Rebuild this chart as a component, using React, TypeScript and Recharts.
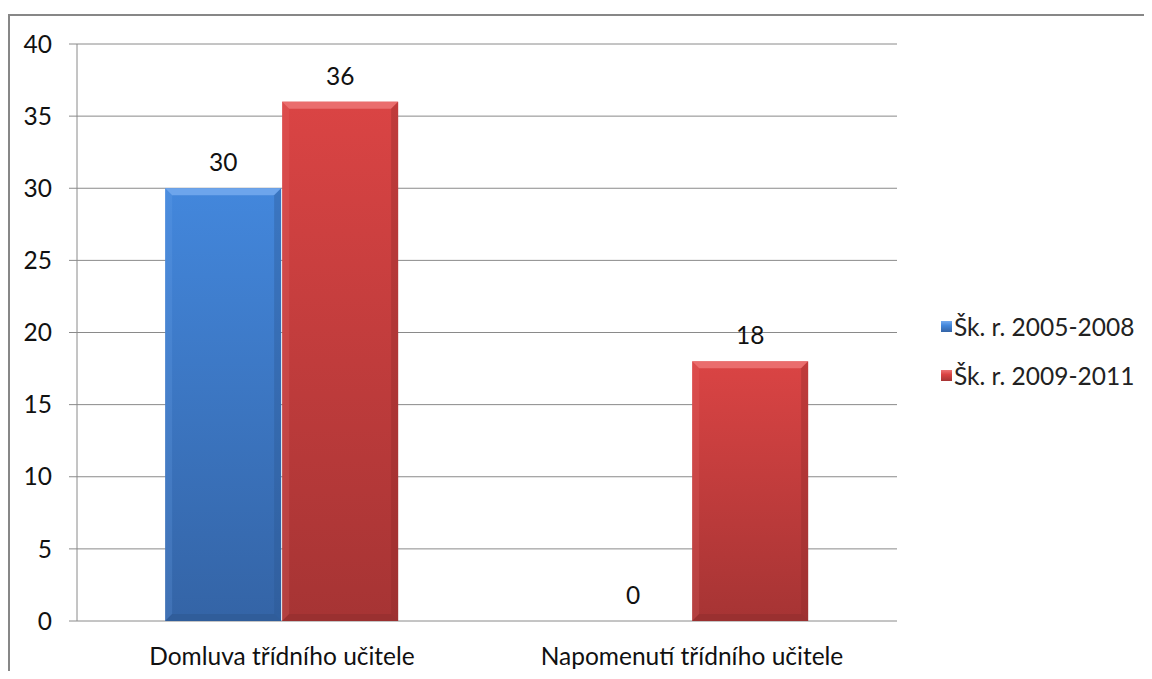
import React from "react";
import { BarChart, Bar, XAxis, YAxis, CartesianGrid, Legend, LabelList } from "recharts";

const categories = ["Domluva třídního učitele", "Napomenutí třídního učitele"];
const series2005 = [30, 0];
const series2009 = [36, 18];
const seriesNames = ["Šk. r. 2005-2008", "Šk. r. 2009-2011"];
const yTicks = [0, 5, 10, 15, 20, 25, 30, 35, 40];
const edgeTicks = [0, 1, 2];

const data = categories.map((c, i) => ({ name: c, a: series2005[i], b: series2009[i] }));

const FONT = "Lato, 'Open Sans', sans-serif";
const FS = 24.5;

const palette = {
  a: { top: "#4387DC", bottom: "#3464A6", light: "#74AAEE", dark: "#2B558E" },
  b: { top: "#DA4444", bottom: "#A63434", light: "#EC7474", dark: "#8E2B2B" },
};

const makeShape = (key: "a" | "b") => (props: any) => {
  const { x, y, width, height } = props;
  if (!height || height <= 0) return <g />;
  const p = palette[key];
  const b = Math.min(7, height / 2, width / 2);
  return (
    <g>
      <rect x={x} y={y} width={width} height={height} fill={`url(#grad-${key})`} />
      <polygon points={`${x},${y} ${x + width},${y} ${x + width - b},${y + b} ${x + b},${y + b}`} fill={p.light} opacity={0.85} />
      <polygon points={`${x},${y} ${x + b},${y + b} ${x + b},${y + height - b} ${x},${y + height}`} fill={p.light} opacity={0.2} />
      <polygon points={`${x + width},${y} ${x + width - b},${y + b} ${x + width - b},${y + height - b} ${x + width},${y + height}`} fill={p.dark} opacity={0.35} />
      <polygon points={`${x},${y + height} ${x + b},${y + height - b} ${x + width - b},${y + height - b} ${x + width},${y + height}`} fill={p.dark} opacity={0.5} />
    </g>
  );
};

const LegendContent = () => (
  <div style={{ width: 255, paddingLeft: 44, paddingTop: 14, boxSizing: "border-box", fontFamily: FONT, fontSize: FS, color: "#222" }}>
    {seriesNames.map((n, i) => {
      const p = i === 0 ? palette.a : palette.b;
      return (
        <div key={n} style={{ display: "flex", alignItems: "center", height: 49, whiteSpace: "nowrap" }}>
          <span style={{ display: "inline-block", width: 11, height: 11, background: `linear-gradient(${p.light}, ${p.top} 40%, ${p.bottom})`, marginRight: 2 }} />
          <span>{n}</span>
        </div>
      );
    })}
  </div>
);

export default function App() {
  return (
    <div style={{ marginTop: 6, borderTop: "2px solid #878787", borderLeft: "2px solid #878787", width: 1142, background: "#fff" }}>
      <BarChart
        width={1142}
        height={655}
        data={data}
        margin={{ top: 28, right: 0, bottom: 0, left: 7 }}
        barCategoryGap="21.5%"
        barGap={1}
      >
        <defs>
          <linearGradient id="grad-a" x1="0" y1="0" x2="0" y2="1">
            <stop offset="0%" stopColor={palette.a.top} />
            <stop offset="100%" stopColor={palette.a.bottom} />
          </linearGradient>
          <linearGradient id="grad-b" x1="0" y1="0" x2="0" y2="1">
            <stop offset="0%" stopColor={palette.b.top} />
            <stop offset="100%" stopColor={palette.b.bottom} />
          </linearGradient>
        </defs>
        <CartesianGrid vertical={false} stroke="#8a8a8a" xAxisId="edge" yAxisId="y" />
        <XAxis
          xAxisId="edge"
          type="number"
          domain={[0, 2]}
          ticks={edgeTicks}
          tick={false}
          height={0}
          tickSize={8}
          stroke="#8a8a8a"
          axisLine={{ stroke: "#8a8a8a" }}
          tickLine={{ stroke: "#8a8a8a" }}
        />
        <XAxis
          xAxisId="cat"
          dataKey="name"
          height={50}
          axisLine={false}
          tickLine={false}
          tickSize={0}
          tickMargin={27}
          tick={{ fill: "#111", fontFamily: FONT, fontSize: FS }}
        />
        <YAxis
          yAxisId="y"
          width={60}
          domain={[0, 40]}
          ticks={yTicks}
          tickSize={8}
          tickMargin={17}
          axisLine={{ stroke: "#8a8a8a" }}
          tickLine={{ stroke: "#8a8a8a" }}
          tick={{ fill: "#111", fontFamily: FONT, fontSize: FS }}
        />
        <Legend layout="vertical" align="right" verticalAlign="middle" content={<LegendContent />} />
        <Bar dataKey="a" name={seriesNames[0]} xAxisId="cat" yAxisId="y" fill={palette.a.top} shape={makeShape("a")} isAnimationActive={false}>
          <LabelList dataKey="a" position="top" offset={17} style={{ fill: "#111", fontFamily: FONT, fontSize: FS }} />
        </Bar>
        <Bar dataKey="b" name={seriesNames[1]} xAxisId="cat" yAxisId="y" fill={palette.b.top} shape={makeShape("b")} isAnimationActive={false}>
          <LabelList dataKey="b" position="top" offset={17} style={{ fill: "#111", fontFamily: FONT, fontSize: FS }} />
        </Bar>
      </BarChart>
    </div>
  );
}
